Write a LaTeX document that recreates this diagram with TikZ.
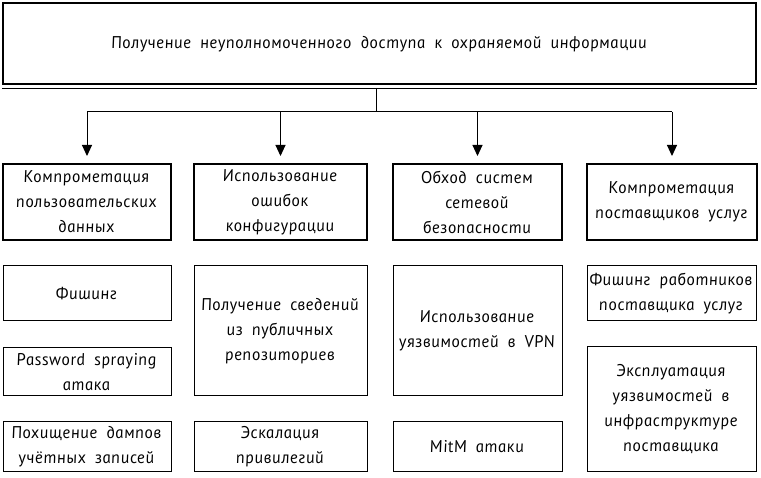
\documentclass[tikz,border=0pt]{standalone}
\usepackage{fontspec}
\setmainfont{PT Sans Italic}[FakeSlant=-0.17, LetterSpace=3, WordSpace=1.8]
\usepackage{tikz}
\usetikzlibrary{arrows.meta}

\begin{document}
\begin{tikzpicture}[
    x=1pt, y=-1pt,
    every node/.style={
        font=\fontsize{17}{25}\selectfont,
        align=center,
        inner sep=0pt
    },
    head/.style={
        rectangle,
        draw=black,
        line width=2pt,
        minimum width=753pt,
        minimum height=81pt
    },
    group/.style={
        rectangle,
        draw=black,
        line width=2pt,
        minimum height=76pt
    },
    leaf/.style={
        rectangle,
        draw=black,
        line width=1pt
    },
    arr/.style={
        line width=1pt,
        -{Triangle[width=10pt,length=11pt]},
        shorten >=7pt
    }
    ]
    \useasboundingbox (0,0) rectangle (761,478);

    \node[head] (top) at (379.5,44) {Получение неуполномоченного доступа к охраняемой информации};
    \draw[line width=0.8pt] ([yshift=-2.5pt]top.south west) -- ([yshift=-2.5pt]top.south east);

    \node[group, minimum width=168pt] (k1) at (87,202) {Компрометация\\пользовательских\\данных};
    \node[group, minimum width=173pt] (k2) at (280.5,202) {Использование\\ошибок\\конфигурации};
    \node[group, minimum width=169pt] (k3) at (477.5,202) {Обход систем\\сетевой\\безопасности};
    \node[group, minimum width=170pt] (k4) at (672,202) {Компрометация\\поставщиков услуг};

    \node[leaf, minimum width=168pt, minimum height=55pt] (f1) at (87,293.5) {Фишинг};
    \node[leaf, minimum width=168pt, minimum height=48pt] (f2) at (87,372) {Password spraying\\атака};
    \node[leaf, minimum width=168pt, minimum height=49pt] (f3) at (87,446.5) {Похищение дампов\\учётных записей};

    \node[leaf, minimum width=173pt, minimum height=130pt] (g1) at (280.5,331) {Получение сведений\\из публичных\\репозиториев};
    \node[leaf, minimum width=173pt, minimum height=49pt] (g2) at (280.5,446.5) {Эскалация\\привилегий};

    \node[leaf, minimum width=169pt, minimum height=130pt] (h1) at (477.5,331) {Использование\\уязвимостей в VPN};
    \node[leaf, minimum width=169pt, minimum height=49pt] (h2) at (477.5,446.5) {MitM атаки};

    \node[leaf, minimum width=169pt, minimum height=55pt] (j1) at (671.5,293.5) {Фишинг работников\\поставщика услуг};
    \node[leaf, minimum width=169pt, minimum height=124pt] (j2) at (671.5,409) {Эксплуатация\\уязвимостей в\\инфраструктуре\\поставщика};

    % shared bus from the head box
    \coordinate (bus) at (376,112);
    \draw[line width=1pt] ([yshift=-2.5pt]bus |- top.south) -- (bus);
    \draw[line width=1pt] (bus -| k1.north) -- (bus -| k4.north);
    \foreach \n in {k1,k2,k3,k4}
        \draw[arr] (bus -| \n.north) -- (\n.north);
\end{tikzpicture}
\end{document}
